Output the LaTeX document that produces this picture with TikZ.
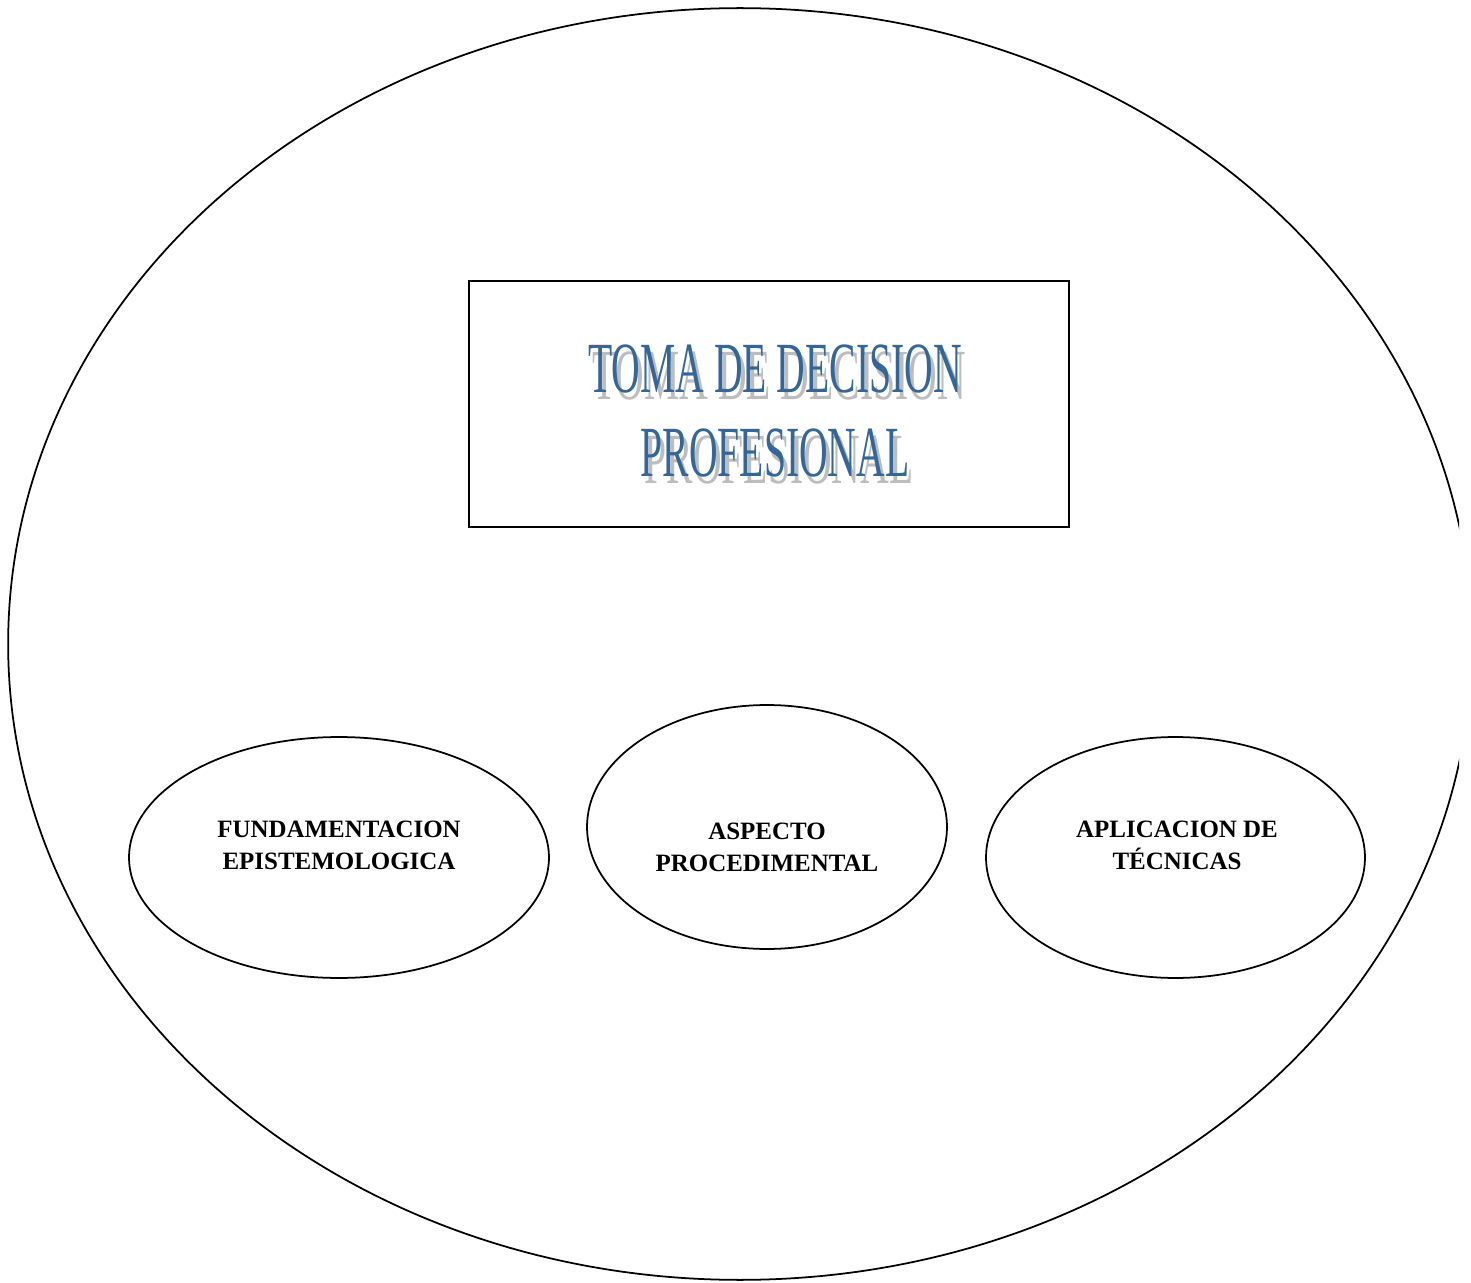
\documentclass[tikz,border=0pt]{standalone}
\usepackage{fontspec}
\setmainfont{Liberation Serif}
\newfontfamily\titlefont[FakeStretch=0.55]{Liberation Serif}
\usetikzlibrary{shapes.geometric}
\definecolor{titleblue}{HTML}{336699}
\definecolor{shadowgray}{HTML}{BDBDBD}
\tikzset{
  oval/.style={draw, ellipse, line width=1pt, inner sep=0pt},
  lbl/.style={align=center, inner sep=0pt, font=\fontsize{14.2}{18.2}\selectfont\bfseries},
  ttl/.style={align=center, inner sep=0pt, font=\titlefont\fontsize{41}{47.8}\selectfont}
}
\begin{document}
\begin{tikzpicture}[x=0.02cm, y=-0.02cm]
\useasboundingbox (0,0) rectangle (1471,1283);
\clip (0,0) rectangle (1459,1283);
\node[oval, minimum width=29.28cm, minimum height=25.44cm] (whole) at (740,644) {};
\node[draw, line width=1pt, minimum width=12cm, minimum height=4.92cm] (box) at (769,404) {};
\node[ttl, text=shadowgray] (titleshadow) at (779,418) {TOMA DE DECISION\\PROFESIONAL};
\node[ttl, text=titleblue] (title) at (775,411) {TOMA DE DECISION\\PROFESIONAL};
\node[oval, minimum width=8.4cm, minimum height=4.82cm] (fund) at (339,857.5) {};
\node[oval, minimum width=7.2cm, minimum height=4.88cm] (asp) at (767,827) {};
\node[oval, minimum width=7.58cm, minimum height=4.82cm] (apl) at (1175.5,857.5) {};
\node[lbl] (fundtxt) at (339,845) {FUNDAMENTACION\\EPISTEMOLOGICA};
\node[lbl] (asptxt) at (767,847) {ASPECTO\\PROCEDIMENTAL};
\node[lbl] (apltxt) at (1177,845) {APLICACION DE\\TÉCNICAS};
\end{tikzpicture}
\end{document}
